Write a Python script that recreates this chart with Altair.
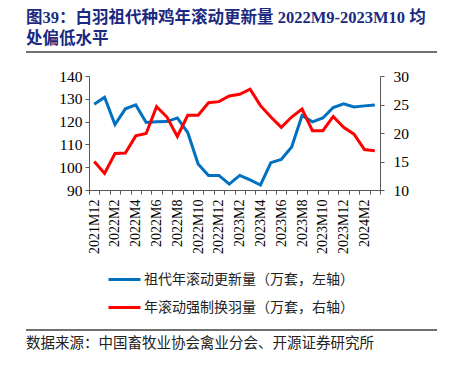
import altair as alt
import pandas as pd

months = ["2021M12"] + [f"2022M{i}" for i in range(1, 13)] + [f"2023M{i}" for i in range(1, 13)] + ["2024M1", "2024M2", "2024M3"]

gp_renewal = [127.6, 130.7, 118.7, 125.6, 127.3, 119.6, 119.9, 120.0, 121.6, 115.2,
              101.4, 96.4, 96.4, 92.6, 96.4, 94.4, 92.2, 102.0, 103.4, 108.9,
              122.7, 119.9, 121.6, 126.2, 127.8, 126.4, 126.9, 127.3]
forced_molt = [15.0, 12.9, 16.4, 16.5, 19.5, 19.9, 24.6, 22.8, 19.4, 23.1,
               23.1, 25.3, 25.5, 26.5, 26.8, 27.7, 24.8, 22.8, 21.0, 22.8,
               24.2, 20.4, 20.4, 22.9, 21.0, 19.8, 17.1, 16.9]

series_names = ["祖代年滚动更新量（万套，左轴）", "年滚动强制换羽量（万套，右轴）"]
series_colors = ["#0070C0", "#FF0000"]

title_lines = ["图39：白羽祖代种鸡年滚动更新量 2022M9-2023M10 均", "处偏低水平"]
source_text = "数据来源：中国畜牧业协会禽业分会、开源证券研究所"

left_ticks = [90, 100, 110, 120, 130, 140]
right_ticks = [10, 15, 20, 25, 30]

df = pd.DataFrame({
    "month": months * 2,
    "series": [series_names[0]] * len(months) + [series_names[1]] * len(months),
    "value": gp_renewal + forced_molt,
})

SERIF = "Liberation Serif"
CJK = "Noto Sans CJK SC"
AXIS_COLOR = "#595959"

color_enc = alt.Color(
    "series:N",
    scale=alt.Scale(domain=series_names, range=series_colors),
    legend=alt.Legend(
        title=None, orient="none", legendX=18, legendY=186, direction="vertical",
        symbolType="stroke", symbolSize=1024, symbolStrokeWidth=3,
        labelFont=CJK, labelFontSize=14, labelColor="#222222", labelLimit=400,
        labelOffset=2, rowPadding=3, padding=0,
    ),
)

x_enc = alt.X(
    "month:O",
    sort=months,
    scale=alt.Scale(type="band", paddingInner=0, paddingOuter=0),
    axis=alt.Axis(
        title=None, tickBand="extent", labelAngle=270, labelAlign="right",
        labelBaseline="middle", labelOverlap=False,
        labelExpr="parseInt(split(datum.value, 'M')[1]) % 2 == 0 ? datum.value : ''",
        labelFont=SERIF, labelFontSize=14, labelColor="#000000", labelPadding=5,
        tickSize=4, tickColor=AXIS_COLOR, domainColor=AXIS_COLOR, grid=False,
    ),
)

base = alt.Chart(df)

left_line = base.transform_filter(alt.datum.series == series_names[0]).mark_line(strokeWidth=3).encode(
    x=x_enc,
    y=alt.Y("value:Q", scale=alt.Scale(domain=[90, 140], nice=False, zero=False),
            axis=alt.Axis(title=None, values=left_ticks, orient="left", grid=False,
                          labelFont=SERIF, labelFontSize=15.5, labelColor="#000000",
                          tickSize=4, labelPadding=3, tickColor=AXIS_COLOR, domainColor=AXIS_COLOR)),
    color=color_enc,
)

right_line = base.transform_filter(alt.datum.series == series_names[1]).mark_line(strokeWidth=3).encode(
    x=x_enc,
    y=alt.Y("value:Q", scale=alt.Scale(domain=[10, 30], nice=False, zero=False),
            axis=alt.Axis(title=None, values=right_ticks, orient="right", grid=False,
                          labelFont=SERIF, labelFontSize=15.5, labelColor="#000000",
                          tickSize=4, labelPadding=9, tickColor=AXIS_COLOR, domainColor=AXIS_COLOR)),
    color=color_enc,
)

title_df1 = pd.DataFrame({"t": [title_lines[0]]})
title_df2 = pd.DataFrame({"t": [title_lines[1]]})
src_df = pd.DataFrame({"t": [source_text]})
one = pd.DataFrame({"k": [0]})

title1 = alt.Chart(title_df1).mark_text(
    align="left", baseline="middle", font=f"{SERIF}, {CJK}", fontSize=16.5,
    fontWeight="bold", color="#1b2a80",
).encode(x=alt.value(-63), y=alt.value(-58.5), text="t:N")

title2 = alt.Chart(title_df2).mark_text(
    align="left", baseline="middle", font=f"{SERIF}, {CJK}", fontSize=16.5,
    fontWeight="bold", color="#1b2a80",
).encode(x=alt.value(-63), y=alt.value(-37), text="t:N")

top_rule = alt.Chart(one).mark_rule(color="#404040", strokeWidth=1.5).encode(
    x=alt.value(-63), x2=alt.value(348), y=alt.value(-24))

bottom_rule = alt.Chart(one).mark_rule(color="#404040", strokeWidth=1.5).encode(
    x=alt.value(-63), x2=alt.value(348), y=alt.value(254))

source = alt.Chart(src_df).mark_text(
    align="left", baseline="middle", font=CJK, fontSize=14.5, color="#222222",
).encode(x=alt.value(-63), y=alt.value(268), text="t:N")

chart = alt.layer(left_line, right_line, title1, title2, top_rule, bottom_rule, source).resolve_scale(
    y="independent"
).properties(
    width=291, height=114,
    autosize=alt.AutoSizeParams(type="none"),
    padding={"left": 81, "top": 68, "right": 61, "bottom": 169},
    background="white",
).configure_view(stroke=None)

chart.save("out.html", embed_options={"renderer": "svg", "actions": False})
